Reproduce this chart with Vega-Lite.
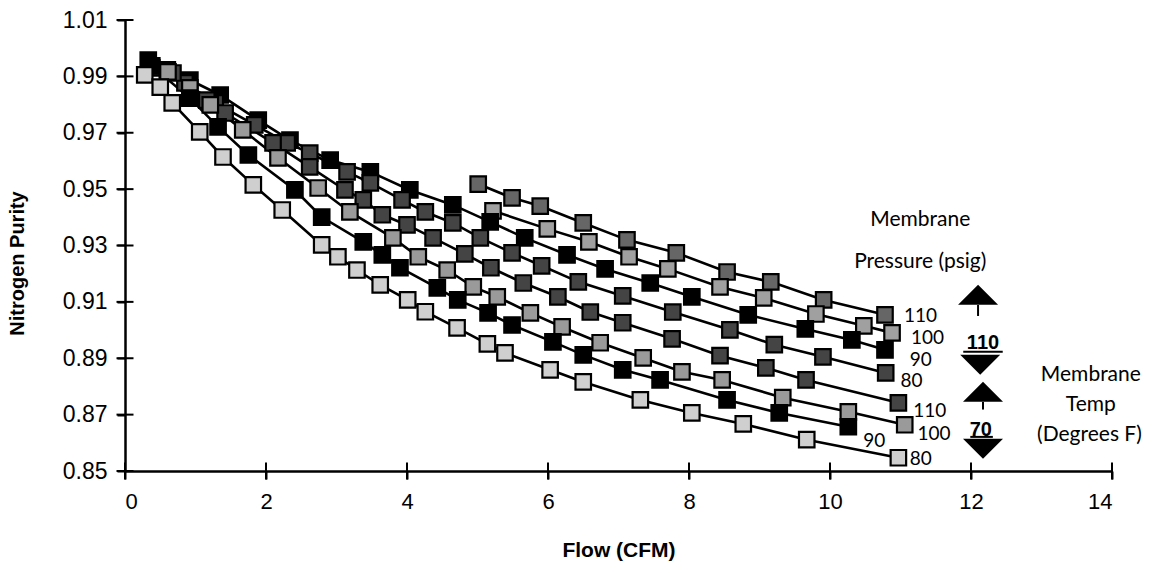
{
  "$schema": "https://vega.github.io/schema/vega-lite/v6.json",
  "width": 987,
  "height": 451,
  "autosize": {"type": "none"},
  "padding": {"left": 125, "top": 20, "right": 45, "bottom": 102},
  "background": "white",
  "config": {"view": {"stroke": null}},
  "datasets": {
    "series": [
      {"series": "110 psig, 110 F", "flow": 5.01, "purity": 0.9518},
      {"series": "110 psig, 110 F", "flow": 5.49, "purity": 0.9469},
      {"series": "110 psig, 110 F", "flow": 5.89, "purity": 0.9440},
      {"series": "110 psig, 110 F", "flow": 6.50, "purity": 0.9380},
      {"series": "110 psig, 110 F", "flow": 7.12, "purity": 0.9320},
      {"series": "110 psig, 110 F", "flow": 7.82, "purity": 0.9274},
      {"series": "110 psig, 110 F", "flow": 8.54, "purity": 0.9206},
      {"series": "110 psig, 110 F", "flow": 9.16, "purity": 0.9171},
      {"series": "110 psig, 110 F", "flow": 9.91, "purity": 0.9107},
      {"series": "110 psig, 110 F", "flow": 10.78, "purity": 0.9054},

      {"series": "100 psig, 110 F", "flow": 5.22, "purity": 0.9423},
      {"series": "100 psig, 110 F", "flow": 5.99, "purity": 0.9359},
      {"series": "100 psig, 110 F", "flow": 6.58, "purity": 0.9313},
      {"series": "100 psig, 110 F", "flow": 7.15, "purity": 0.9260},
      {"series": "100 psig, 110 F", "flow": 7.70, "purity": 0.9217},
      {"series": "100 psig, 110 F", "flow": 8.44, "purity": 0.9153},
      {"series": "100 psig, 110 F", "flow": 9.06, "purity": 0.9114},
      {"series": "100 psig, 110 F", "flow": 9.80, "purity": 0.9057},
      {"series": "100 psig, 110 F", "flow": 10.48, "purity": 0.9015},
      {"series": "100 psig, 110 F", "flow": 10.88, "purity": 0.8990},

      {"series": "90 psig, 110 F", "flow": 0.33, "purity": 0.9958},
      {"series": "90 psig, 110 F", "flow": 0.60, "purity": 0.9923},
      {"series": "90 psig, 110 F", "flow": 0.92, "purity": 0.9887},
      {"series": "90 psig, 110 F", "flow": 1.35, "purity": 0.9834},
      {"series": "90 psig, 110 F", "flow": 1.89, "purity": 0.9745},
      {"series": "90 psig, 110 F", "flow": 2.34, "purity": 0.9674},
      {"series": "90 psig, 110 F", "flow": 2.91, "purity": 0.9603},
      {"series": "90 psig, 110 F", "flow": 3.48, "purity": 0.9561},
      {"series": "90 psig, 110 F", "flow": 4.04, "purity": 0.9497},
      {"series": "90 psig, 110 F", "flow": 4.65, "purity": 0.9444},
      {"series": "90 psig, 110 F", "flow": 5.18, "purity": 0.9384},
      {"series": "90 psig, 110 F", "flow": 5.67, "purity": 0.9327},
      {"series": "90 psig, 110 F", "flow": 6.27, "purity": 0.9267},
      {"series": "90 psig, 110 F", "flow": 6.81, "purity": 0.9217},
      {"series": "90 psig, 110 F", "flow": 7.45, "purity": 0.9167},
      {"series": "90 psig, 110 F", "flow": 8.04, "purity": 0.9118},
      {"series": "90 psig, 110 F", "flow": 8.84, "purity": 0.9054},
      {"series": "90 psig, 110 F", "flow": 9.65, "purity": 0.9004},
      {"series": "90 psig, 110 F", "flow": 10.31, "purity": 0.8965},
      {"series": "90 psig, 110 F", "flow": 10.78, "purity": 0.8930},

      {"series": "80 psig, 110 F", "flow": 0.38, "purity": 0.9930},
      {"series": "80 psig, 110 F", "flow": 0.85, "purity": 0.9877},
      {"series": "80 psig, 110 F", "flow": 1.28, "purity": 0.9806},
      {"series": "80 psig, 110 F", "flow": 1.84, "purity": 0.9728},
      {"series": "80 psig, 110 F", "flow": 2.30, "purity": 0.9664},
      {"series": "80 psig, 110 F", "flow": 2.62, "purity": 0.9628},
      {"series": "80 psig, 110 F", "flow": 3.15, "purity": 0.9561},
      {"series": "80 psig, 110 F", "flow": 3.48, "purity": 0.9522},
      {"series": "80 psig, 110 F", "flow": 3.93, "purity": 0.9462},
      {"series": "80 psig, 110 F", "flow": 4.26, "purity": 0.9419},
      {"series": "80 psig, 110 F", "flow": 4.65, "purity": 0.9380},
      {"series": "80 psig, 110 F", "flow": 5.04, "purity": 0.9327},
      {"series": "80 psig, 110 F", "flow": 5.49, "purity": 0.9274},
      {"series": "80 psig, 110 F", "flow": 5.91, "purity": 0.9228},
      {"series": "80 psig, 110 F", "flow": 6.43, "purity": 0.9171},
      {"series": "80 psig, 110 F", "flow": 7.06, "purity": 0.9121},
      {"series": "80 psig, 110 F", "flow": 7.77, "purity": 0.9064},
      {"series": "80 psig, 110 F", "flow": 8.58, "purity": 0.9001},
      {"series": "80 psig, 110 F", "flow": 9.21, "purity": 0.8948},
      {"series": "80 psig, 110 F", "flow": 9.90, "purity": 0.8905},
      {"series": "80 psig, 110 F", "flow": 10.79, "purity": 0.8848},

      {"series": "110 psig, 70 F", "flow": 0.68, "purity": 0.9912},
      {"series": "110 psig, 70 F", "flow": 1.16, "purity": 0.9816},
      {"series": "110 psig, 70 F", "flow": 1.42, "purity": 0.9770},
      {"series": "110 psig, 70 F", "flow": 2.10, "purity": 0.9664},
      {"series": "110 psig, 70 F", "flow": 2.62, "purity": 0.9579},
      {"series": "110 psig, 70 F", "flow": 3.12, "purity": 0.9497},
      {"series": "110 psig, 70 F", "flow": 3.38, "purity": 0.9462},
      {"series": "110 psig, 70 F", "flow": 3.65, "purity": 0.9409},
      {"series": "110 psig, 70 F", "flow": 4.00, "purity": 0.9373},
      {"series": "110 psig, 70 F", "flow": 4.37, "purity": 0.9327},
      {"series": "110 psig, 70 F", "flow": 4.82, "purity": 0.9270},
      {"series": "110 psig, 70 F", "flow": 5.19, "purity": 0.9221},
      {"series": "110 psig, 70 F", "flow": 5.65, "purity": 0.9167},
      {"series": "110 psig, 70 F", "flow": 6.14, "purity": 0.9118},
      {"series": "110 psig, 70 F", "flow": 6.60, "purity": 0.9064},
      {"series": "110 psig, 70 F", "flow": 7.06, "purity": 0.9026},
      {"series": "110 psig, 70 F", "flow": 7.76, "purity": 0.8969},
      {"series": "110 psig, 70 F", "flow": 8.44, "purity": 0.8909},
      {"series": "110 psig, 70 F", "flow": 9.09, "purity": 0.8866},
      {"series": "110 psig, 70 F", "flow": 9.66, "purity": 0.8823},
      {"series": "110 psig, 70 F", "flow": 10.97, "purity": 0.8742},

      {"series": "100 psig, 70 F", "flow": 0.61, "purity": 0.9916},
      {"series": "100 psig, 70 F", "flow": 0.92, "purity": 0.9859},
      {"series": "100 psig, 70 F", "flow": 1.21, "purity": 0.9799},
      {"series": "100 psig, 70 F", "flow": 1.67, "purity": 0.9710},
      {"series": "100 psig, 70 F", "flow": 2.17, "purity": 0.9611},
      {"series": "100 psig, 70 F", "flow": 2.74, "purity": 0.9504},
      {"series": "100 psig, 70 F", "flow": 3.19, "purity": 0.9419},
      {"series": "100 psig, 70 F", "flow": 3.80, "purity": 0.9327},
      {"series": "100 psig, 70 F", "flow": 4.16, "purity": 0.9260},
      {"series": "100 psig, 70 F", "flow": 4.57, "purity": 0.9213},
      {"series": "100 psig, 70 F", "flow": 4.94, "purity": 0.9153},
      {"series": "100 psig, 70 F", "flow": 5.28, "purity": 0.9118},
      {"series": "100 psig, 70 F", "flow": 5.75, "purity": 0.9061},
      {"series": "100 psig, 70 F", "flow": 6.20, "purity": 0.9011},
      {"series": "100 psig, 70 F", "flow": 6.74, "purity": 0.8955},
      {"series": "100 psig, 70 F", "flow": 7.35, "purity": 0.8901},
      {"series": "100 psig, 70 F", "flow": 7.90, "purity": 0.8852},
      {"series": "100 psig, 70 F", "flow": 8.47, "purity": 0.8823},
      {"series": "100 psig, 70 F", "flow": 9.33, "purity": 0.8760},
      {"series": "100 psig, 70 F", "flow": 10.26, "purity": 0.8710},
      {"series": "100 psig, 70 F", "flow": 11.06, "purity": 0.8664},

      {"series": "90 psig, 70 F", "flow": 0.38, "purity": 0.9937},
      {"series": "90 psig, 70 F", "flow": 0.92, "purity": 0.9823},
      {"series": "90 psig, 70 F", "flow": 1.32, "purity": 0.9721},
      {"series": "90 psig, 70 F", "flow": 1.75, "purity": 0.9621},
      {"series": "90 psig, 70 F", "flow": 2.41, "purity": 0.9497},
      {"series": "90 psig, 70 F", "flow": 2.79, "purity": 0.9401},
      {"series": "90 psig, 70 F", "flow": 3.38, "purity": 0.9313},
      {"series": "90 psig, 70 F", "flow": 3.65, "purity": 0.9267},
      {"series": "90 psig, 70 F", "flow": 3.90, "purity": 0.9221},
      {"series": "90 psig, 70 F", "flow": 4.43, "purity": 0.9150},
      {"series": "90 psig, 70 F", "flow": 4.72, "purity": 0.9107},
      {"series": "90 psig, 70 F", "flow": 5.15, "purity": 0.9061},
      {"series": "90 psig, 70 F", "flow": 5.49, "purity": 0.9018},
      {"series": "90 psig, 70 F", "flow": 6.07, "purity": 0.8958},
      {"series": "90 psig, 70 F", "flow": 6.50, "purity": 0.8912},
      {"series": "90 psig, 70 F", "flow": 7.06, "purity": 0.8859},
      {"series": "90 psig, 70 F", "flow": 7.59, "purity": 0.8823},
      {"series": "90 psig, 70 F", "flow": 8.54, "purity": 0.8752},
      {"series": "90 psig, 70 F", "flow": 9.28, "purity": 0.8706},
      {"series": "90 psig, 70 F", "flow": 10.26, "purity": 0.8657},

      {"series": "80 psig, 70 F", "flow": 0.28, "purity": 0.9905},
      {"series": "80 psig, 70 F", "flow": 0.50, "purity": 0.9862},
      {"series": "80 psig, 70 F", "flow": 0.67, "purity": 0.9806},
      {"series": "80 psig, 70 F", "flow": 1.06, "purity": 0.9703},
      {"series": "80 psig, 70 F", "flow": 1.39, "purity": 0.9614},
      {"series": "80 psig, 70 F", "flow": 1.82, "purity": 0.9515},
      {"series": "80 psig, 70 F", "flow": 2.23, "purity": 0.9426},
      {"series": "80 psig, 70 F", "flow": 2.79, "purity": 0.9302},
      {"series": "80 psig, 70 F", "flow": 3.02, "purity": 0.9260},
      {"series": "80 psig, 70 F", "flow": 3.29, "purity": 0.9213},
      {"series": "80 psig, 70 F", "flow": 3.62, "purity": 0.9160},
      {"series": "80 psig, 70 F", "flow": 4.01, "purity": 0.9107},
      {"series": "80 psig, 70 F", "flow": 4.26, "purity": 0.9065},
      {"series": "80 psig, 70 F", "flow": 4.71, "purity": 0.9008},
      {"series": "80 psig, 70 F", "flow": 5.14, "purity": 0.8951},
      {"series": "80 psig, 70 F", "flow": 5.39, "purity": 0.8919},
      {"series": "80 psig, 70 F", "flow": 6.03, "purity": 0.8859},
      {"series": "80 psig, 70 F", "flow": 6.50, "purity": 0.8816},
      {"series": "80 psig, 70 F", "flow": 7.31, "purity": 0.8752},
      {"series": "80 psig, 70 F", "flow": 8.04, "purity": 0.8706},
      {"series": "80 psig, 70 F", "flow": 8.77, "purity": 0.8667},
      {"series": "80 psig, 70 F", "flow": 9.67, "purity": 0.8611},
      {"series": "80 psig, 70 F", "flow": 10.97, "purity": 0.8547}
    ],
    "endLabels": [
      {"text": "110", "flow": 11.05, "purity": 0.9050},
      {"text": "100", "flow": 11.15, "purity": 0.8972},
      {"text": "90", "flow": 11.13, "purity": 0.8894},
      {"text": "80", "flow": 11.0, "purity": 0.8818},
      {"text": "110", "flow": 11.18, "purity": 0.8712},
      {"text": "100", "flow": 11.24, "purity": 0.8630},
      {"text": "90", "flow": 10.47, "purity": 0.8607},
      {"text": "80", "flow": 11.13, "purity": 0.8542}
    ],
    "captions": [
      {"text": "Membrane", "flow": 11.28, "purity": 0.9391},
      {"text": "Pressure (psig)", "flow": 11.28, "purity": 0.9242},
      {"text": "Membrane", "flow": 13.70, "purity": 0.8841},
      {"text": "Temp", "flow": 13.70, "purity": 0.8735},
      {"text": "(Degrees F)", "flow": 13.68, "purity": 0.8628}
    ],
    "boldLabels": [
      {"text": "110", "flow": 12.17, "purity": 0.8955},
      {"text": "70", "flow": 12.14, "purity": 0.8646}
    ],
    "arrows": [
      {"dir": "up", "flow": 12.10, "purity": 0.9125},
      {"dir": "down", "flow": 12.13, "purity": 0.8877},
      {"dir": "up", "flow": 12.17, "purity": 0.8781},
      {"dir": "down", "flow": 12.17, "purity": 0.8579}
    ],
    "strokes": [
      {"flow": 11.89, "flow2": 12.45, "purity": 0.8923, "purity2": 0.8923},
      {"flow": 11.99, "flow2": 12.31, "purity": 0.8621, "purity2": 0.8621},
      {"flow": 12.10, "flow2": 12.10, "purity": 0.9089, "purity2": 0.9050},
      {"flow": 12.17, "flow2": 12.17, "purity": 0.8745, "purity2": 0.8718}
    ],
    "xTicks": [{"flow": 0}, {"flow": 2}, {"flow": 4}, {"flow": 6}, {"flow": 8}, {"flow": 10}, {"flow": 12}, {"flow": 14}],
    "yTicks": [{"purity": 0.85}, {"purity": 0.87}, {"purity": 0.89}, {"purity": 0.91}, {"purity": 0.93}, {"purity": 0.95}, {"purity": 0.97}, {"purity": 0.99}, {"purity": 1.01}]
  },
  "layer": [
    {
      "data": {"name": "series"},
      "mark": {"type": "line", "color": "black", "strokeWidth": 2.6},
      "encoding": {
        "x": {
          "field": "flow", "type": "quantitative",
          "scale": {"domain": [0, 14], "nice": false, "zero": false},
          "axis": {
            "title": "Flow (CFM)", "values": [0, 2, 4, 6, 8, 10, 12, 14], "format": "d",
            "grid": false, "domainColor": "black", "domainWidth": 2.5,
            "tickColor": "black", "tickWidth": 2, "tickSize": 8,
            "labelFont": "Liberation Sans Narrow, Liberation Sans", "labelFontSize": 22, "labelColor": "black",
            "labelPadding": 12,
            "titleFont": "Liberation Sans", "titleFontSize": 21, "titleFontWeight": "bold",
            "titleColor": "black", "titlePadding": 27
          }
        },
        "y": {
          "field": "purity", "type": "quantitative",
          "scale": {"domain": [0.85, 1.01], "nice": false, "zero": false},
          "axis": {
            "title": "Nitrogen Purity",
            "values": [0.85, 0.87, 0.89, 0.91, 0.93, 0.95, 0.97, 0.99, 1.01],
            "format": ".2f",
            "grid": false, "domainColor": "black", "domainWidth": 2.5,
            "tickColor": "black", "tickWidth": 2, "tickSize": 8,
            "labelFont": "Liberation Sans", "labelFontSize": 23, "labelColor": "black",
            "labelPadding": 10,
            "titleFont": "Liberation Sans", "titleFontSize": 20, "titleFontWeight": "bold",
            "titleColor": "black", "titleX": -108, "titleY": 243,
            "titleAlign": "center", "titleBaseline": "middle"
          }
        },
        "detail": {"field": "series", "type": "nominal"}
      }
    },
    {
      "data": {"name": "xTicks"},
      "mark": {"type": "tick", "orient": "vertical", "size": 17, "thickness": 2, "color": "black", "opacity": 1},
      "encoding": {
        "x": {"field": "flow", "type": "quantitative"},
        "y": {"datum": 0.85, "type": "quantitative"}
      }
    },
    {
      "data": {"name": "yTicks"},
      "mark": {"type": "tick", "orient": "horizontal", "size": 17, "thickness": 2, "color": "black", "opacity": 1},
      "encoding": {
        "x": {"datum": 0, "type": "quantitative"},
        "y": {"field": "purity", "type": "quantitative"}
      }
    },
    {
      "data": {"name": "series"},
      "mark": {"type": "point", "shape": "square", "filled": true, "size": 240,
               "stroke": "black", "strokeWidth": 2.2, "opacity": 1},
      "encoding": {
        "x": {"field": "flow", "type": "quantitative"},
        "y": {"field": "purity", "type": "quantitative"},
        "fill": {
          "field": "series", "type": "nominal", "legend": null,
          "scale": {
            "domain": ["110 psig, 110 F", "100 psig, 110 F", "90 psig, 110 F", "80 psig, 110 F",
                       "110 psig, 70 F", "100 psig, 70 F", "90 psig, 70 F", "80 psig, 70 F"],
            "range": ["#666666", "#a0a0a0", "#000000", "#444444",
                      "#444444", "#9a9a9a", "#000000", "#cfcfcf"]
          }
        }
      }
    },
    {
      "data": {"name": "endLabels"},
      "mark": {"type": "text", "align": "left", "baseline": "middle", "font": "Lato", "fontSize": 19, "color": "black"},
      "encoding": {
        "x": {"field": "flow", "type": "quantitative"},
        "y": {"field": "purity", "type": "quantitative"},
        "text": {"field": "text"}
      }
    },
    {
      "data": {"name": "captions"},
      "mark": {"type": "text", "align": "center", "baseline": "middle", "font": "Lato", "fontSize": 21, "color": "black"},
      "encoding": {
        "x": {"field": "flow", "type": "quantitative"},
        "y": {"field": "purity", "type": "quantitative"},
        "text": {"field": "text"}
      }
    },
    {
      "data": {"name": "boldLabels"},
      "mark": {"type": "text", "align": "center", "baseline": "middle", "font": "Liberation Sans", "fontSize": 20, "fontWeight": "bold", "color": "black"},
      "encoding": {
        "x": {"field": "flow", "type": "quantitative"},
        "y": {"field": "purity", "type": "quantitative"},
        "text": {"field": "text"}
      }
    },
    {
      "data": {"name": "strokes"},
      "mark": {"type": "rule", "color": "black", "strokeWidth": 2},
      "encoding": {
        "x": {"field": "flow", "type": "quantitative"},
        "x2": {"field": "flow2"},
        "y": {"field": "purity", "type": "quantitative"},
        "y2": {"field": "purity2"}
      }
    },
    {
      "data": {"name": "arrows"},
      "mark": {"type": "point", "filled": true, "size": 1600, "color": "black", "opacity": 1},
      "encoding": {
        "x": {"field": "flow", "type": "quantitative"},
        "y": {"field": "purity", "type": "quantitative"},
        "shape": {
          "field": "dir", "type": "nominal", "legend": null,
          "scale": {"domain": ["up", "down"], "range": ["M-1,0.5L1,0.5L0,-0.5Z", "M-1,-0.5L1,-0.5L0,0.5Z"]}
        }
      }
    }
  ]
}
